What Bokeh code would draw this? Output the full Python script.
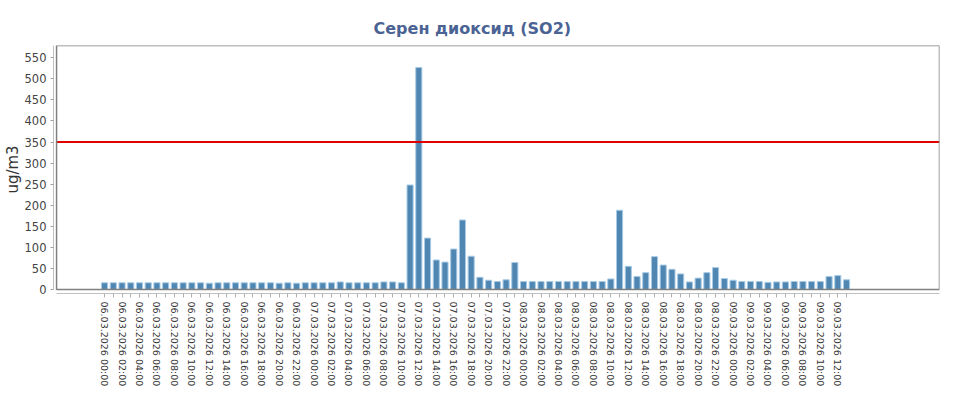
from datetime import datetime, timedelta
from bokeh.plotting import figure
from bokeh.models import Range1d, FixedTicker, BoxAnnotation
from bokeh.embed import file_html
from bokeh.resources import INLINE

title_text = "Серен диоксид (SO2)"
y_label = "ug/m3"
start_time = datetime(2026, 3, 6, 0, 0)
so2_values = [
    16, 16, 16, 16, 16, 16, 16, 16, 16, 16, 16, 16, 15, 16, 16, 16, 16, 16,
    16, 16, 15, 16, 15, 16, 16, 16, 16, 18, 16, 16, 16, 16, 18, 18, 16,
    248, 527, 122, 70, 65, 96, 165, 79, 29, 22, 19, 23, 64,
    19, 19, 19, 19, 19, 19, 19, 19, 19, 19,
    25, 188, 55, 31, 40, 78, 58, 48, 37, 18, 27, 40, 52, 26, 22, 19, 19, 19,
    17, 18, 18, 19, 19, 19, 19, 31, 33, 23,
]
limit_value = 350
y_ticks = list(range(0, 551, 50))

times = [(start_time + timedelta(hours=i)).strftime("%d.%m.%Y %H:%M") for i in range(len(so2_values))]
idx = list(range(len(so2_values)))
overrides = {i: (t if i % 2 == 0 else "") for i, t in zip(idx, times)}

x_start, x_end = -5.85, 95.65
box_left = -5.5
y_start, y_end = -9.5, 579

p = figure(width=955, height=394, output_backend="svg", toolbar_location=None,
           x_range=Range1d(x_start, x_end), y_range=Range1d(y_start, y_end),
           min_border_left=0, min_border_right=16, min_border_bottom=101, min_border_top=45)
p.title.text = title_text
p.title.align = "left"
p.title.offset = 320
p.title.text_font = "DejaVu Sans"
p.title.text_font_size = "16px"
p.title.text_font_style = "bold"
p.title.text_color = "#4b6394"
p.title.standoff = 15

p.outline_line_color = None
p.xgrid.visible = False
p.ygrid.visible = False
p.background_fill_color = "white"
p.border_fill_color = "white"

p.vbar(x=idx, top=so2_values, width=0.7, bottom=0,
       fill_color="#4f87b2", line_color="#a9cbe6", line_width=1)

p.segment(x0=[box_left], x1=[x_end], y0=[limit_value], y1=[limit_value],
          line_color="#e00000", line_width=2)
p.add_layout(BoxAnnotation(left=box_left, right=x_end, bottom=0, top=y_end,
                           fill_alpha=0, line_color="#808080", line_width=1.5, line_alpha=1))

ya = p.yaxis[0]
ya.ticker = FixedTicker(ticks=y_ticks)
ya.bounds = (0, y_end)
ya.axis_label = y_label
ya.axis_label_text_font = "DejaVu Sans"
ya.axis_label_text_font_size = "15px"
ya.axis_label_text_font_style = "normal"
ya.axis_label_text_color = "#333333"
ya.axis_label_standoff = 0
ya.axis_label_text_line_height = 0.75
ya.major_label_text_font = "DejaVu Sans"
ya.major_label_text_font_size = "11.5px"
ya.major_label_text_color = "#444444"
ya.major_label_standoff = 4
ya.axis_line_color = "#c0c0c0"
ya.major_tick_line_color = "#a0a0a0"
ya.major_tick_out = 3
ya.major_tick_in = 0
ya.minor_tick_line_color = None

xa = p.xaxis[0]
xa.ticker = FixedTicker(ticks=idx)
xa.major_label_overrides = overrides
xa.major_label_orientation = "vertical"
xa.bounds = (box_left, x_end)
xa.major_label_text_font = "DejaVu Sans"
xa.major_label_text_font_size = "9.5px"
xa.major_label_text_color = "#333333"
xa.major_label_standoff = 4
xa.axis_line_color = "#c0c0c0"
xa.major_tick_line_color = "#b0b0b0"
xa.major_tick_out = 4
xa.major_tick_in = 0
xa.minor_tick_line_color = None

open("out.html", "w").write(file_html(p, INLINE))
